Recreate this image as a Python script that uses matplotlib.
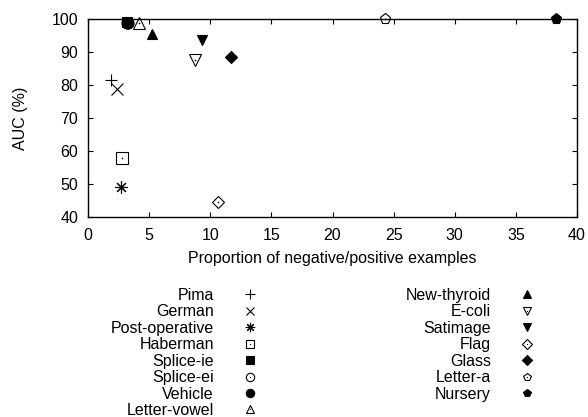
import matplotlib
matplotlib.use("Agg")
import matplotlib.pyplot as plt

plt.rcParams['font.family'] = ['Liberation Sans', 'DejaVu Sans']

names = ["Pima", "German", "Post-operative", "Haberman", "Splice-ie", "Splice-ei",
         "Vehicle", "Letter-vowel", "New-thyroid", "E-coli", "Satimage", "Flag",
         "Glass", "Letter-a", "Nursery"]
ratio = [1.88, 2.35, 2.68, 2.76, 3.17, 3.2, 3.25, 4.2, 5.27, 8.72, 9.32, 10.6, 11.7, 24.3, 38.3]
auc = [81.5, 78.7, 49.0, 58.0, 99.2, 98.9, 98.7, 98.7, 95.5, 87.6, 93.6, 44.6, 88.4, 100.0, 100.0]

# marker, filled, center dot
styles = [("+", False, False), ("x", False, False), ((8, 2, 0), False, True),
          ("s", False, True), ("s", True, False), ("o", False, True),
          ("o", True, False), ("^", False, True), ("^", True, False),
          ("v", False, True), ("v", True, False), ("D", False, True),
          ("D", True, False), ("p", False, True), ("p", True, False)]
sizes = [9, 8, 9, 8, 7.5, 8, 8, 8, 7, 8, 7, 6.5, 6.5, 8, 8]

xticks = [0, 5, 10, 15, 20, 25, 30, 35, 40]
yticks = [40, 50, 60, 70, 80, 90, 100]

FS = 11.5
fig = plt.figure(figsize=(5.88, 4.17), dpi=100)
ax = fig.add_axes([88/588, 1-217/417, (577-88)/588, (217-19)/417])

handles = []
for i, n in enumerate(names):
    m, filled, dot = styles[i]
    line, = ax.plot([ratio[i]], [auc[i]], linestyle='none', marker=m,
                    markersize=sizes[i], markeredgewidth=0.8,
                    markerfacecolor='black' if filled else 'none',
                    markeredgecolor='black', clip_on=False, zorder=3)
    if dot:
        d, = ax.plot([ratio[i]], [auc[i]], linestyle='none', marker='o',
                     markersize=1.2, color='black', markeredgewidth=0,
                     clip_on=False, zorder=4)
        handles.append((line, d))
    else:
        handles.append(line)

ax.set_xlim(0, 40)
ax.set_ylim(40, 100)
ax.set_xticks(xticks)
ax.set_yticks(yticks)
ax.tick_params(direction='in', length=3.6, width=0.8, top=True, right=True,
               labelsize=FS)
ax.tick_params(axis='x', pad=8)
ax.tick_params(axis='y', pad=7)
for s in ax.spines.values():
    s.set_linewidth(1.0)
ax.set_xlabel("Proportion of negative/positive examples", fontsize=FS, labelpad=6)
ax.set_ylabel("AUC (%)", fontsize=FS, labelpad=17)

common = dict(frameon=False, markerfirst=False, fontsize=FS, handlelength=0.9,
              handletextpad=1.8, labelspacing=0.09, markerscale=0.75,
              borderpad=0, borderaxespad=0)
leg1 = fig.legend(handles[:8], names[:8], loc='upper right',
                  bbox_to_anchor=(257/588, 1-288/417), **common)
leg2 = fig.legend(handles[8:], names[8:], loc='upper right',
                  bbox_to_anchor=(534/588, 1-288/417), **common)

fig.savefig("out.png", dpi=100)
